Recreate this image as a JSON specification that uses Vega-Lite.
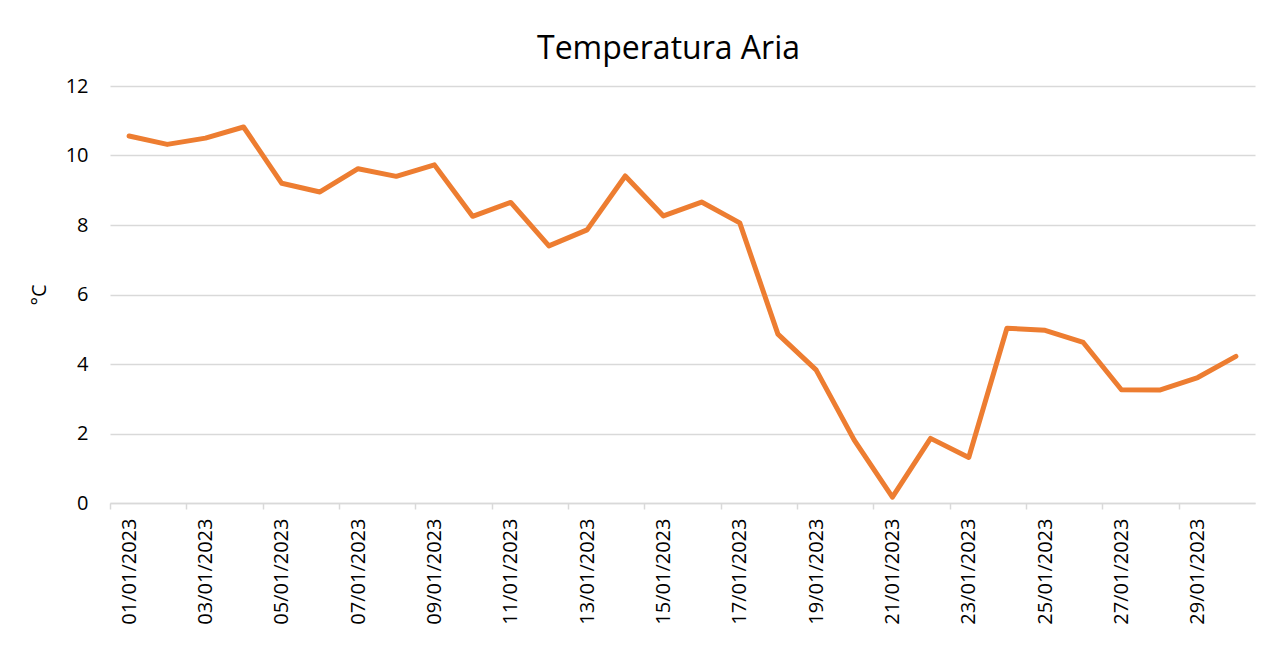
{
  "$schema": "https://vega.github.io/schema/vega-lite/v6.json",
  "autosize": "none",
  "width": 1145,
  "height": 417,
  "padding": {"left": 110, "top": 86, "right": 24, "bottom": 163},
  "background": "white",
  "config": {
    "view": {"stroke": null},
    "font": "Open Sans"
  },
  "title": {
    "text": "Temperatura Aria",
    "font": "Open Sans",
    "fontSize": 32,
    "fontWeight": "normal",
    "color": "#000000",
    "anchor": "middle",
    "baseline": "alphabetic",
    "offset": 26,
    "dx": -14,
    "dy": 41
  },
  "data": {
    "values": [
      {"data": "01/01/2023", "temp": 10.56},
      {"data": "02/01/2023", "temp": 10.32},
      {"data": "03/01/2023", "temp": 10.5},
      {"data": "04/01/2023", "temp": 10.82},
      {"data": "05/01/2023", "temp": 9.2},
      {"data": "06/01/2023", "temp": 8.95},
      {"data": "07/01/2023", "temp": 9.62},
      {"data": "08/01/2023", "temp": 9.4},
      {"data": "09/01/2023", "temp": 9.73},
      {"data": "10/01/2023", "temp": 8.25},
      {"data": "11/01/2023", "temp": 8.65},
      {"data": "12/01/2023", "temp": 7.4},
      {"data": "13/01/2023", "temp": 7.86},
      {"data": "14/01/2023", "temp": 9.41},
      {"data": "15/01/2023", "temp": 8.26},
      {"data": "16/01/2023", "temp": 8.66},
      {"data": "17/01/2023", "temp": 8.06},
      {"data": "18/01/2023", "temp": 4.86},
      {"data": "19/01/2023", "temp": 3.83},
      {"data": "20/01/2023", "temp": 1.81},
      {"data": "21/01/2023", "temp": 0.17},
      {"data": "22/01/2023", "temp": 1.86},
      {"data": "23/01/2023", "temp": 1.31},
      {"data": "24/01/2023", "temp": 5.03},
      {"data": "25/01/2023", "temp": 4.97},
      {"data": "26/01/2023", "temp": 4.62},
      {"data": "27/01/2023", "temp": 3.26},
      {"data": "28/01/2023", "temp": 3.25},
      {"data": "29/01/2023", "temp": 3.61},
      {"data": "30/01/2023", "temp": 4.22}
    ]
  },
  "mark": {
    "type": "line",
    "color": "#ED7D31",
    "strokeWidth": 5,
    "strokeCap": "round",
    "strokeJoin": "round"
  },
  "encoding": {
    "x": {
      "field": "data",
      "type": "ordinal",
      "sort": null,
      "scale": {"type": "band", "paddingInner": 0, "paddingOuter": 0},
      "axis": {
        "title": null,
        "values": ["01/01/2023", "03/01/2023", "05/01/2023", "07/01/2023", "09/01/2023", "11/01/2023", "13/01/2023", "15/01/2023", "17/01/2023", "19/01/2023", "21/01/2023", "23/01/2023", "25/01/2023", "27/01/2023", "29/01/2023"],
        "tickOffset": -19.08,
        "labelOffset": 19.08,
        "labelAngle": -90,
        "labelAlign": "right",
        "labelBaseline": "middle",
        "labelFont": "Open Sans",
        "labelFontSize": 20,
        "labelColor": "#000000",
        "labelPadding": 9,
        "tickSize": 6,
        "tickColor": "#d9d9d9",
        "tickWidth": 1.5,
        "domainColor": "#d9d9d9",
        "domainWidth": 1.5,
        "grid": false
      }
    },
    "y": {
      "field": "temp",
      "type": "quantitative",
      "scale": {"domain": [0, 12], "nice": false, "zero": true},
      "axis": {
        "title": "°C",
        "titleFont": "Open Sans",
        "titleFontSize": 20,
        "titleFontWeight": "normal",
        "titleColor": "#000000",
        "titlePadding": 16,
        "values": [0, 2, 4, 6, 8, 10, 12],
        "labelFont": "Open Sans",
        "labelFontSize": 20,
        "labelColor": "#000000",
        "labelPadding": 22,
        "ticks": false,
        "domain": false,
        "grid": true,
        "gridColor": "#d9d9d9",
        "gridWidth": 1.5
      }
    }
  }
}
